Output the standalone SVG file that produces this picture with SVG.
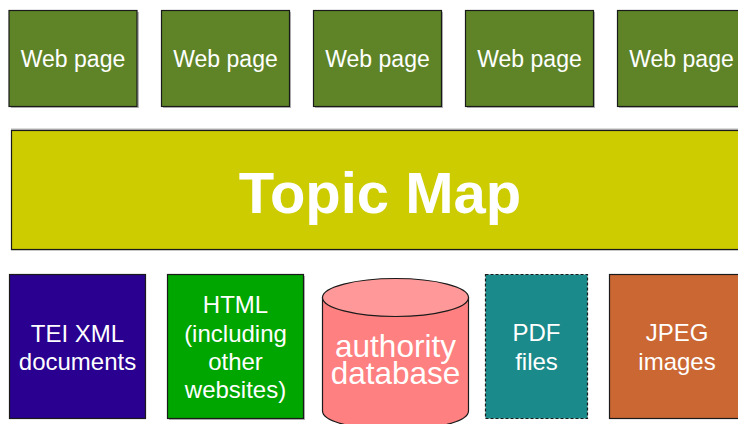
<svg xmlns="http://www.w3.org/2000/svg" width="738" height="424" viewBox="0 0 738 424">
<style>
.box{stroke:#1a1a1a;stroke-width:1.2}
.sh{fill:#b8b8b8}
.t{font-family:"Liberation Sans",Arial,sans-serif;fill:#ffffff;text-anchor:middle}
.wp{fill:#5e8427}
.s23{font-size:23px}
.s24{font-size:24px}
</style>
<rect width="738" height="424" fill="#ffffff"/>
<g id="web1"><rect class="sh" x="11" y="12" width="128" height="96"/><rect class="box wp" x="9" y="10.5" width="128" height="96"/><text class="t s23" x="73" y="66.5">Web page</text></g>
<g id="web2"><rect class="sh" x="163" y="12" width="128" height="96"/><rect class="box wp" x="161.5" y="10.5" width="128" height="96"/><text class="t s23" x="225.5" y="66.5">Web page</text></g>
<g id="web3"><rect class="sh" x="315" y="12" width="128" height="96"/><rect class="box wp" x="313.5" y="10.5" width="128" height="96"/><text class="t s23" x="377.5" y="66.5">Web page</text></g>
<g id="web4"><rect class="sh" x="467" y="12" width="128" height="96"/><rect class="box wp" x="465.5" y="10.5" width="128" height="96"/><text class="t s23" x="529.5" y="66.5">Web page</text></g>
<g id="web5"><rect class="sh" x="619" y="12" width="128" height="96"/><rect class="box wp" x="617.5" y="10.5" width="128" height="96"/><text class="t s23" x="681.5" y="66.5">Web page</text></g>
<g id="topicmap"><rect class="sh" x="11" y="128.5" width="740" height="122"/><rect class="box" fill="#cccc00" x="11.5" y="130.5" width="740" height="119"/><text class="t" x="380" y="213" font-size="58" font-weight="bold">Topic Map</text></g>
<g id="tei"><rect class="box" fill="#290090" x="9.5" y="274.5" width="136" height="144"/><text class="t s24" x="77.5" y="342">TEI XML</text><text class="t s24" x="77.5" y="370">documents</text></g>
<g id="html"><rect class="sh" x="169" y="276" width="136" height="144"/><rect class="box" fill="#00a600" x="167.5" y="274.5" width="136" height="144"/><text class="t s24" x="235.5" y="313">HTML</text><text class="t s24" x="235.5" y="341.5">(including</text><text class="t s24" x="235.5" y="370">other</text><text class="t s24" x="235.5" y="398">websites)</text></g>
<g id="authority"><path class="box" fill="#ff8080" d="M322.5 297.5 V411 A73 19 0 0 0 468.5 411 V297.5 Z"/><ellipse class="box" fill="#ff9999" cx="395.5" cy="297.5" rx="73" ry="19"/><text class="t" x="395.5" y="357" font-size="31.5">authority</text><text class="t" x="395.5" y="384" font-size="31.5">database</text></g>
<g id="pdf"><rect fill="#1b8a8a" stroke="#1a1a1a" stroke-width="1.2" stroke-dasharray="3,2" x="485.5" y="274.5" width="102" height="144"/><text class="t s24" x="536.5" y="341">PDF</text><text class="t s24" x="536.5" y="370">files</text></g>
<g id="jpeg"><rect class="box" fill="#cb6733" x="609.5" y="274.5" width="136" height="144"/><text class="t s24" x="677" y="341">JPEG</text><text class="t s24" x="677" y="370">images</text></g>
<g id="connectors"></g>
</svg>
